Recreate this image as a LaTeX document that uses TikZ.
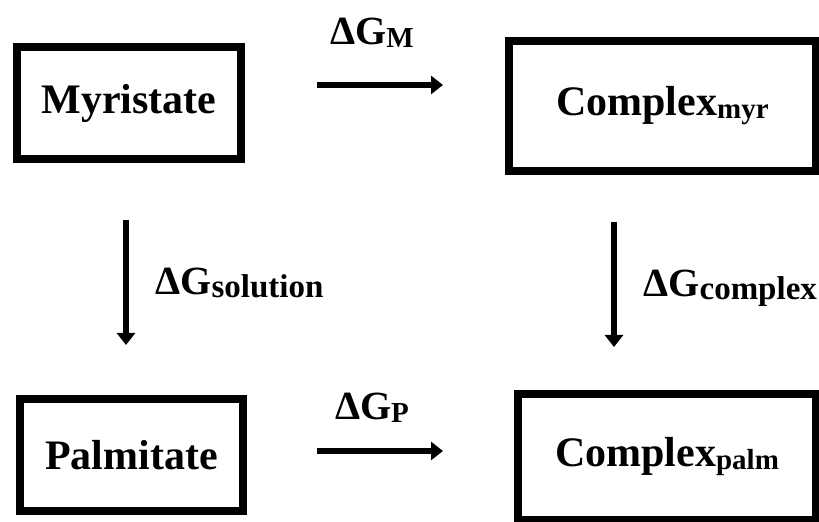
\documentclass[tikz,border=0pt]{standalone}
\usepackage{fontspec}
\setmainfont{Liberation Serif}[BoldFont={Liberation Serif Bold}]
\usetikzlibrary{arrows.meta}

\newcommand{\subtxt}[2][14.5]{{\fontsize{#1}{15}\selectfont\raisebox{-1.5pt}{#2}}}

\tikzset{
  statebox/.style={draw, line width=4pt, inner sep=0pt,
    font=\fontsize{21}{25}\selectfont\bfseries},
  steparrow/.style={line width=3.25pt, -{Triangle[length=6pt,width=9pt]}},
  gibbs/.style={inner sep=0pt, font=\fontsize{20}{24}\selectfont\bfseries}
}

\begin{document}
\begin{tikzpicture}[x=0.5pt,y=-0.5pt]
    \useasboundingbox (0,0) rectangle (819,522);
    % the four states
    \node[statebox, minimum width=112pt, minimum height=56pt] (myr) at (129,103) {Myristate};
    \node[statebox, minimum width=153.5pt, minimum height=65pt] (cmyr) at (662.5,106) {Complex\subtxt{myr}};
    \node[statebox, minimum width=111.5pt, minimum height=56pt] (palm) at (131.5,455) {Palmitate};
    \node[statebox, minimum width=149pt, minimum height=63pt] (cpalm) at (667,457) {Complex\subtxt{palm}};
    % arrow ends
    \coordinate (mA) at (317,85);
    \coordinate (mB) at (443,85);
    \coordinate (pA) at (317,451);
    \coordinate (pB) at (443,451);
    \coordinate (sA) at (126,220);
    \coordinate (sB) at (126,345);
    \coordinate (cA) at (614,222);
    \coordinate (cB) at (614,347);
    \draw[steparrow] (mA) -- (mB);
    \draw[steparrow] (pA) -- (pB);
    \draw[steparrow] (sA) -- (sB);
    \draw[steparrow] (cA) -- (cB);
    % labels
    \node[gibbs, anchor=base] (gM) at (372,45) {ΔG\subtxt{M}};
    \node[gibbs, anchor=base] (gP) at (372,420) {ΔG\subtxt{P}};
    \node[gibbs, anchor=base west] (gS) at (155,295) {ΔG\subtxt[16.5]{solution}};
    \node[gibbs, anchor=base west] (gC) at (643,297) {ΔG\subtxt[16.5]{complex}};
\end{tikzpicture}
\end{document}
